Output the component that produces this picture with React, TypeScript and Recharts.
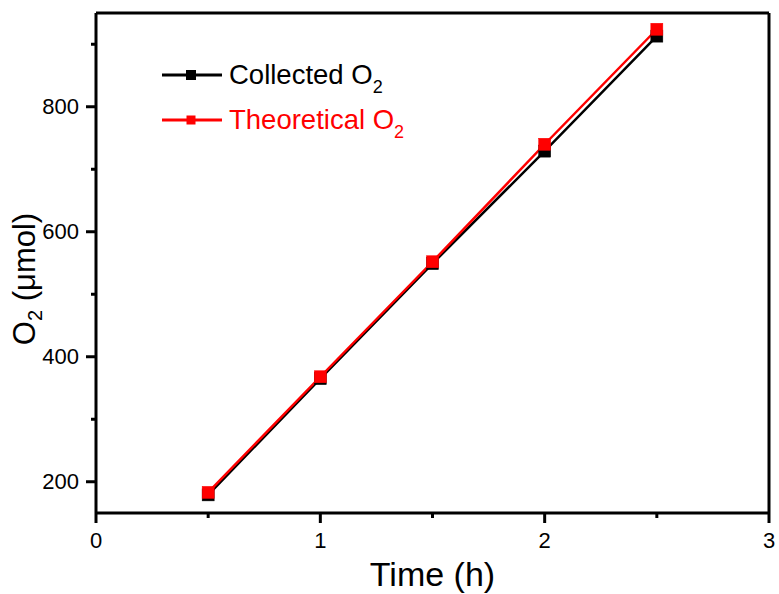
import React from "react";
import { LineChart, Line, XAxis, YAxis, ReferenceLine } from "recharts";

const times = [0.5, 1, 1.5, 2, 2.5];
const collected = [179, 365, 549, 729, 913];
const theoretical = [183, 368, 552, 740, 924];
const xTicks = [0, 0.5, 1, 1.5, 2, 2.5, 3];
const xMajor = [0, 1, 2, 3];
const yTicks = [200, 300, 400, 500, 600, 700, 800, 900];
const yMajor = [200, 400, 600, 800];

const data = times.map((t, i) => ({ t, collected: collected[i], theoretical: theoretical[i] }));

const FONT = "'Liberation Sans', Arial, sans-serif";

const XTick = (props: any) => {
  const { x, y, payload } = props;
  const major = xMajor.includes(payload.value);
  return (
    <g>
      <line x1={x} x2={x} y1={y} y2={y + (major ? 10 : 5)} stroke="#000" strokeWidth={3} />
      {major && (
        <text x={x} y={y + 35} textAnchor="middle" fontSize={22} fontFamily={FONT} fill="#000">
          {payload.value}
        </text>
      )}
    </g>
  );
};

const YTick = (props: any) => {
  const { x, y, payload } = props;
  const major = yMajor.includes(payload.value);
  return (
    <g>
      <line x1={x} x2={x - (major ? 10 : 5)} y1={y} y2={y} stroke="#000" strokeWidth={3} />
      {major && (
        <text x={x - 17} y={y + 7.5} textAnchor="end" fontSize={22} fontFamily={FONT} fill="#000">
          {payload.value}
        </text>
      )}
    </g>
  );
};

const XTitle = (props: any) => {
  const vb = props.viewBox;
  return (
    <text x={vb.x + vb.width / 2} y={vb.y + 73} textAnchor="middle" fontSize={34} fontFamily={FONT} fill="#000">
      Time (h)
    </text>
  );
};

const YTitle = (props: any) => {
  const vb = props.viewBox;
  const cx = vb.x + 35;
  const cy = 279;
  return (
    <text x={cx} y={cy} textAnchor="middle" fontSize={31} fontFamily={FONT} fill="#000" transform={`rotate(-90, ${cx}, ${cy})`}>
      O<tspan fontSize={20} dy={7}>2</tspan>
      <tspan dy={-7}> (μmol)</tspan>
    </text>
  );
};

const SquareDot = (color: string) => (props: any) => {
  const { cx, cy, index } = props;
  if (cx == null || cy == null) return <g key={index} />;
  return <rect key={index} x={cx - 6} y={cy - 6} width={12} height={12} fill={color} stroke={color} strokeWidth={0.5} />;
};

const LegendRow = ({ color, label, top, big }: { color: string; label: string; top: number; big: number }) => (
  <div style={{ position: "absolute", left: 0, top, height: 30, display: "flex", alignItems: "center" }}>
    <svg width={62} height={30} style={{ display: "block" }}>
      <line x1={0} x2={60} y1={15} y2={15} stroke={color} strokeWidth={3} />
      <rect x={29 - big / 2} y={15 - big / 2} width={big} height={big} fill={color} />
    </svg>
    <span style={{ marginLeft: 5, fontFamily: FONT, fontSize: 27.5, color, whiteSpace: "nowrap", lineHeight: "30px" }}>
      {label} O<sub style={{ fontSize: 18, verticalAlign: "-9px", lineHeight: 0 }}>2</sub>
    </span>
  </div>
);

export default function App() {
  return (
    <div style={{ position: "absolute", left: 0, top: 0, width: 779, height: 594, background: "#fff" }}>
      <LineChart width={779} height={594} data={data} margin={{ top: 13, right: 10, left: 0, bottom: 0 }}>
        <XAxis
          dataKey="t"
          type="number"
          domain={[0, 3]}
          ticks={xTicks}
          interval={0}
          tickSize={0}
          tickMargin={0}
          tickLine={false}
          tick={<XTick />}
          height={81}
          axisLine={{ stroke: "#000", strokeWidth: 3 }}
          label={<XTitle />}
        />
        <YAxis
          type="number"
          domain={[150, 950]}
          ticks={yTicks}
          interval={0}
          tickSize={0}
          tickMargin={0}
          tickLine={false}
          tick={<YTick />}
          width={96}
          axisLine={{ stroke: "#000", strokeWidth: 3 }}
          label={<YTitle />}
        />
        <ReferenceLine y={950} stroke="#000" strokeWidth={3} ifOverflow="extendDomain" />
        <ReferenceLine x={3} stroke="#000" strokeWidth={3} ifOverflow="extendDomain" />
        <Line
          dataKey="collected"
          name="Collected O2"
          stroke="#000"
          strokeWidth={2.5}
          dot={SquareDot("#000")}
          isAnimationActive={false}
        />
        <Line
          dataKey="theoretical"
          name="Theoretical O2"
          stroke="#ff0000"
          strokeWidth={2.5}
          dot={SquareDot("#ff0000")}
          isAnimationActive={false}
        />
      </LineChart>
      <div style={{ position: "absolute", left: 162, top: 60, width: 320, height: 80 }}>
        <LegendRow color="#000" label="Collected" top={0} big={10} />
        <LegendRow color="#ff0000" label="Theoretical" top={45} big={9} />
      </div>
    </div>
  );
}
